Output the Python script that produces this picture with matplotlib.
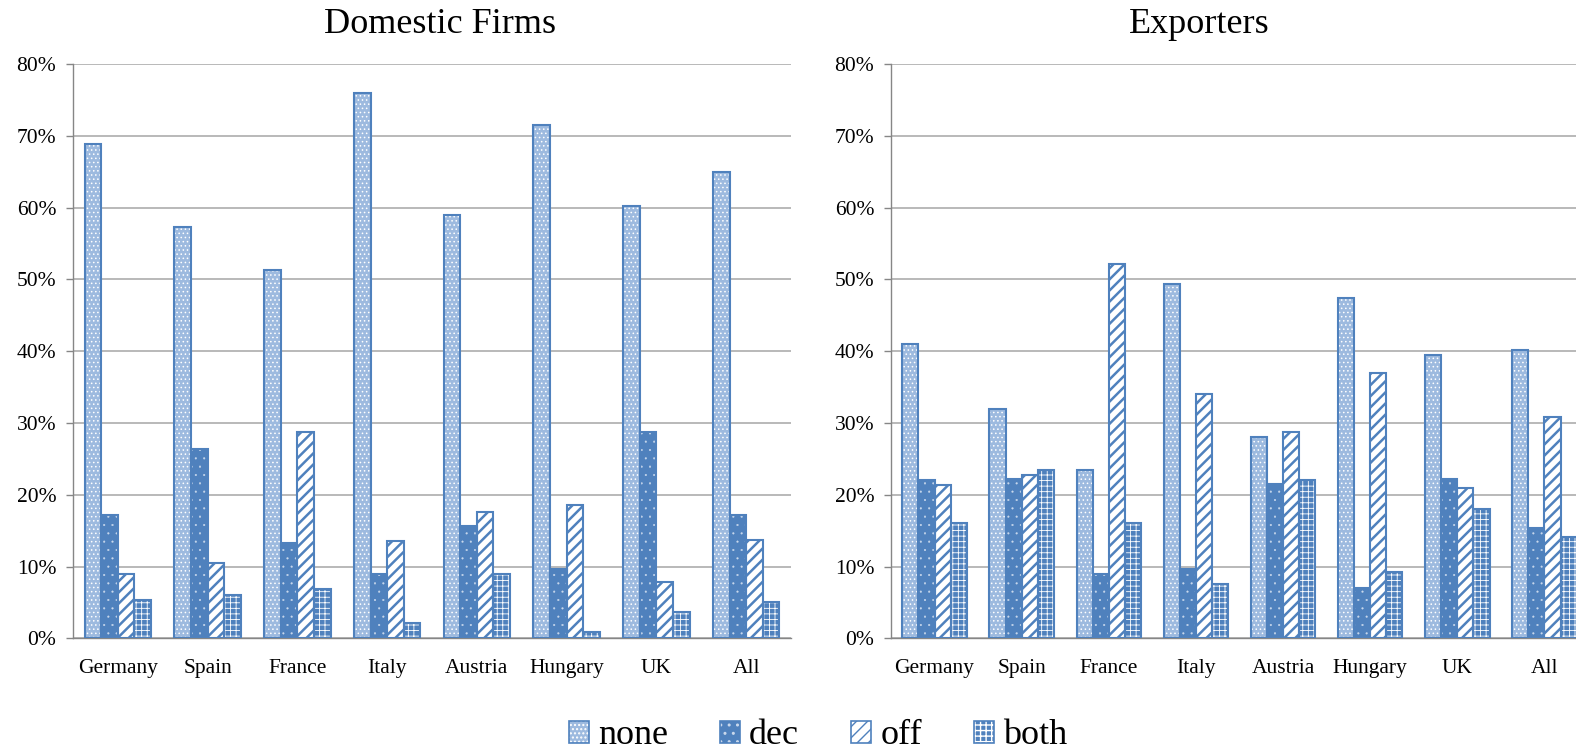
import matplotlib
matplotlib.use("Agg")
import matplotlib.pyplot as plt
import matplotlib.patches as mpatches
from matplotlib.legend_handler import HandlerTuple
import numpy as np
from matplotlib.ticker import FuncFormatter

# ---------------- data ----------------
categories = ["Germany", "Spain", "France", "Italy", "Austria", "Hungary", "UK", "All"]
series_names = ["none", "dec", "off", "both"]

dom_none = [68.9, 57.3, 51.3, 76.0, 58.9, 71.5, 60.2, 65.0]
dom_dec = [17.2, 26.4, 13.3, 9.0, 15.6, 9.6, 28.8, 17.2]
dom_off = [8.9, 10.5, 28.7, 13.5, 17.6, 18.5, 7.9, 13.7]
dom_both = [5.3, 6.1, 6.8, 2.2, 8.9, 0.9, 3.7, 5.0]

exp_none = [41.0, 31.9, 23.5, 49.3, 28.0, 47.4, 39.5, 40.1]
exp_dec = [22.0, 22.2, 8.9, 9.6, 21.5, 7.0, 22.2, 15.4]
exp_off = [21.3, 22.8, 52.1, 34.1, 28.8, 36.9, 21.0, 30.8]
exp_both = [16.1, 23.4, 16.0, 7.5, 22.0, 9.2, 18.0, 14.1]

titles = ["Domestic Firms", "Exporters"]
yticks = [0, 10, 20, 30, 40, 50, 60, 70, 80]

# ---------------- style ----------------
SERIF = ["Liberation Serif", "DejaVu Serif"]
plt.rcParams["font.family"] = SERIF
BLUE = "#4f81bd"
LIGHT = "#9dbadf"
GRID = "#a6a6a6"

# (face, hatch colour, hatch, hatch linewidth)
styles = {
    "none": (LIGHT, "white", "....", 0.6),
    "dec": (BLUE, "#c9d8ec", "..", 0.3),
    "off": ("white", BLUE, "///", 1.8),
    "both": (BLUE, "white", "+++", 0.6),
}

HAS_HLW = hasattr(mpatches.Patch, "set_hatch_linewidth")
if not HAS_HLW:
    plt.rcParams["hatch.linewidth"] = 1.2


def set_hlw(patch, lw):
    if HAS_HLW:
        try:
            patch.set_hatch_linewidth(lw)
        except Exception:
            pass


W, H = 1576, 755
fig = plt.figure(figsize=(W / 100, H / 100), dpi=100)

bottom = (H - 638.3) / H
height = (638.3 - 64) / H
axL = fig.add_axes([73 / W, bottom, 718 / W, height])
axR = fig.add_axes([891 / W, bottom, 697 / W, height])

data = [
    [dom_none, dom_dec, dom_off, dom_both],
    [exp_none, exp_dec, exp_off, exp_both],
]

bw = 0.185
x = np.arange(len(categories))


def draw_bars(ax, xs, vals, name):
    face, hcol, hatch, hlw = styles[name]
    with plt.rc_context({"hatch.linewidth": hlw} if HAS_HLW else {}):
        bars = ax.bar(xs, vals, bw, color=face, edgecolor=hcol, hatch=hatch,
                      linewidth=0, zorder=3)
    for b in bars:
        set_hlw(b, hlw)
    ax.bar(xs, vals, bw, fill=False, edgecolor=BLUE, linewidth=1.5, zorder=4)


for ax, sets in zip([axL, axR], data):
    for i, (name, vals) in enumerate(zip(series_names, sets)):
        xs = x + (i - 1.5) * bw
        draw_bars(ax, xs, [v / 100 for v in vals], name)
    ax.set_xlim(-0.5, len(categories) - 0.5)
    ax.set_ylim(0, 0.8)
    ax.set_yticks([t / 100 for t in yticks])
    ax.yaxis.set_major_formatter(FuncFormatter(lambda v, p: f"{v * 100:.0f}%"))
    ax.set_xticks(x)
    ax.set_xticklabels(categories)
    ax.tick_params(axis="x", length=0, pad=15, labelsize=15.5)
    ax.tick_params(axis="y", length=5, width=1, color="#868686", pad=7,
                   labelsize=15.5)
    ax.yaxis.grid(True, color=GRID, linewidth=1.1, zorder=0)
    ax.set_axisbelow(True)
    for s in ["top", "right"]:
        ax.spines[s].set_visible(False)
    for s in ["left", "bottom"]:
        ax.spines[s].set_color("#868686")
        ax.spines[s].set_linewidth(1.0)

fig.text(440 / W, (H - 33) / H, titles[0], ha="center", va="baseline",
         fontsize=26)
fig.text(1199 / W, (H - 33) / H, titles[1], ha="center", va="baseline",
         fontsize=26)

# legend
handles = []
for name in series_names:
    face, hcol, hatch, hlw = styles[name]
    p = mpatches.Patch(facecolor=face, edgecolor=hcol, hatch=hatch,
                       linewidth=0)
    set_hlw(p, hlw)
    outline = mpatches.Patch(fill=False, edgecolor=BLUE, linewidth=1.2)
    handles.append((p, outline))
leg = fig.legend(handles, series_names, loc="center", ncol=4,
                 bbox_to_anchor=(818 / W, (H - 736) / H), frameon=False,
                 fontsize=26, handlelength=0.55, handleheight=0.55,
                 handletextpad=0.25, columnspacing=1.45, borderpad=0,
                 handler_map={tuple: HandlerTuple(ndivide=1, pad=0)})
for lp in leg.get_patches():
    for name in series_names:
        pass
for h, name in zip(handles, series_names):
    set_hlw(h[0], styles[name][3])

fig.savefig("out.png", dpi=100)
